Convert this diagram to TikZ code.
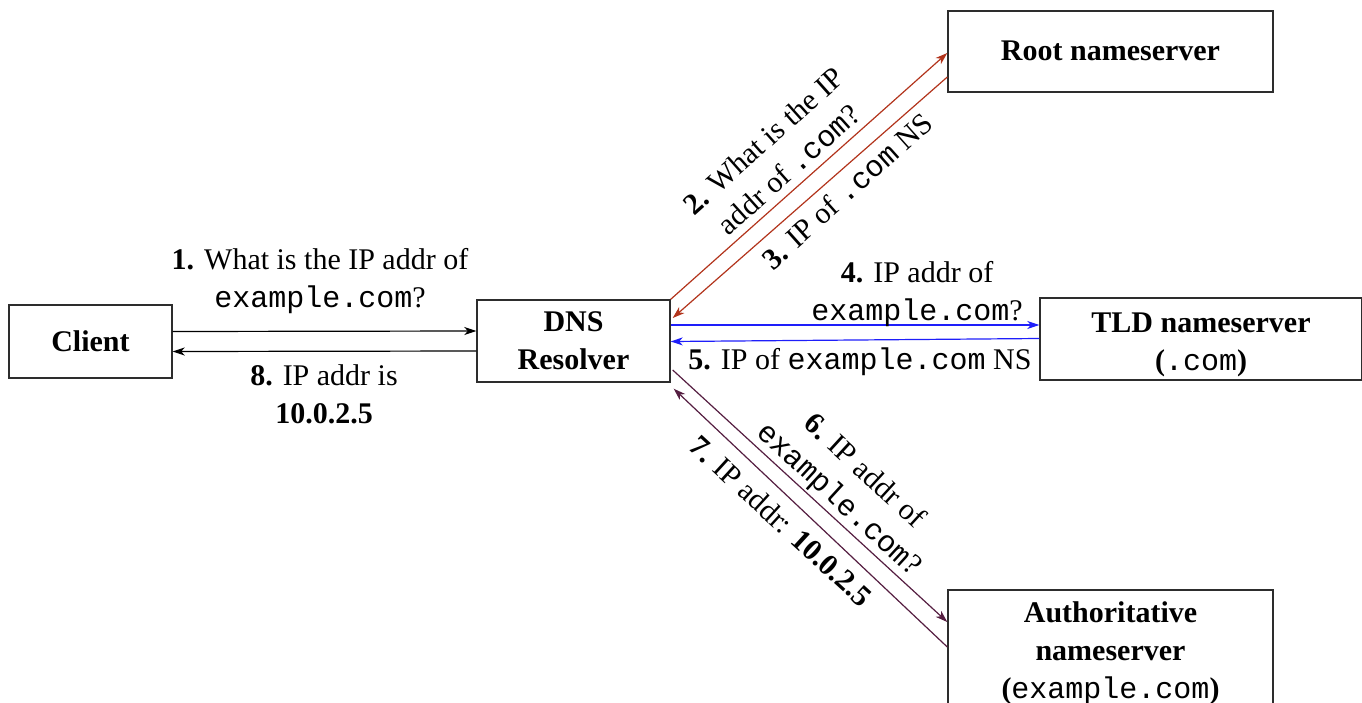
\documentclass[tikz,border=0pt]{standalone}
\usepackage{fontspec}
\setmainfont{Liberation Serif}
\setmonofont{Liberation Mono}
\usetikzlibrary{arrows.meta,calc}
\definecolor{rootred}{RGB}{178,52,28}
\definecolor{tldblue}{RGB}{30,30,250}
\definecolor{authpurple}{RGB}{85,30,65}
\definecolor{boxgray}{RGB}{45,45,45}
\newcommand{\lowertext}[2]{\raisebox{-#1}[\height][\depth]{\begin{tabular}{@{}c@{}}#2\end{tabular}}}
\tikzset{
  box/.style={draw=boxgray,line width=1.4pt,align=center,inner sep=0pt,font=\bfseries},
  lbl/.style={align=center,inner sep=0pt},
  conn/.style={line width=1.2pt,-{Stealth[length=12pt,width=8pt,inset=3.5pt]}},
}
\begin{document}
\begin{tikzpicture}[x=1pt,y=-1pt]
\fontsize{30}{38}\selectfont
\useasboundingbox (0,0) rectangle (1362,702);
\clip (0,0) rectangle (1362,702);
% nodes
\node[box,minimum width=163pt,minimum height=73pt] (client) at (90.5,341.5) {\lowertext{2pt}{Client}};
\node[box,minimum width=193pt,minimum height=82pt] (resolver) at (573.5,341) {\lowertext{2pt}{DNS\\Resolver}};
\node[box,minimum width=325pt,minimum height=81pt] (root) at (1110.5,51.5) {\lowertext{1pt}{Root nameserver}};
\node[box,minimum width=322pt,minimum height=82pt] (tld) at (1201,339) {\lowertext{5pt}{TLD nameserver\\(\texttt{\mdseries .com})}};
\node[box,minimum width=325pt,minimum height=120pt] (auth) at (1110.5,650) {\lowertext{2.5pt}{Authoritative\\nameserver\\(\texttt{\mdseries example.com})}};
% connectors
\draw[conn] ($(client.east)+(0,-10)$) -- ($(resolver.west)+(0,-10)$);
\draw[conn] ($(resolver.west)+(0,10)$) -- ($(client.east)+(0,10)$);
\draw[conn,rootred] (resolver.north east) -- ($(root.west)+(0,1.5)$);
\draw[conn,rootred] ($(root.west)+(0,25.5)$) -- ($(resolver.east)+(2,-23)$);
\draw[conn,tldblue] ($(resolver.east)+(0,-16)$) -- ($(tld.west)+(0,-14)$);
\draw[conn,tldblue] ($(tld.west)+(0,-0.5)$) -- ($(resolver.east)+(0,0.5)$);
\draw[conn,authpurple] ($(resolver.east)+(2,29)$) -- ($(auth.west)+(0,-28)$);
\draw[conn,authpurple] ($(auth.west)+(0,-3)$) -- ($(resolver.south east)+(3,6)$);
% labels
\node[lbl] (l1) at (320,281) {\textbf{1.} What is the IP addr of\\\texttt{example.com}?};
\node[lbl] (l8) at (324,394) {\textbf{8.} IP addr is\\\textbf{10.0.2.5}};
\node[lbl,rotate=41.8] (l2) at (776,155) {\textbf{2.} What is the IP\\addr of \texttt{.com}?};
\node[lbl,rotate=41.8] (l3) at (847,191) {\textbf{3.} IP of \texttt{.com} NS};
\node[lbl] (l4) at (917,294) {\textbf{4.} IP addr of\\\texttt{example.com}?};
\node[lbl] (l5) at (860,362) {\textbf{5.} IP of \texttt{example.com} NS};
\node[lbl,rotate=-42.5] (l6) at (851,486) {\textbf{6.} IP addr of\\\texttt{example.com}?};
\node[lbl,rotate=-42.5] (l7) at (781,521) {\textbf{7.} IP addr: \textbf{10.0.2.5}};
\end{tikzpicture}
\end{document}
